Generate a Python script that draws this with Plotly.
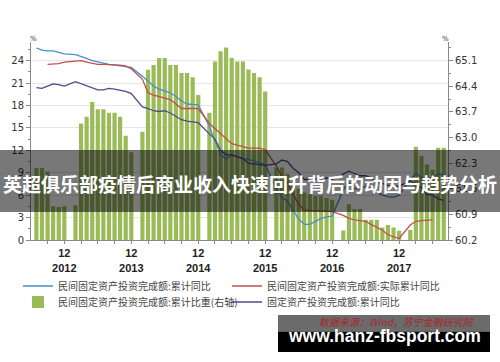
import plotly.graph_objects as go

# ---------------- data ----------------
months = [
    "2012-07", "2012-08", "2012-09", "2012-10", "2012-11", "2012-12",
    "2013-02", "2013-03", "2013-04", "2013-05", "2013-06", "2013-07", "2013-08", "2013-09", "2013-10", "2013-11", "2013-12",
    "2014-02", "2014-03", "2014-04", "2014-05", "2014-06", "2014-07", "2014-08", "2014-09", "2014-10", "2014-11", "2014-12",
    "2015-02", "2015-03", "2015-04", "2015-05", "2015-06", "2015-07", "2015-08", "2015-09", "2015-10", "2015-11", "2015-12",
    "2016-02", "2016-03", "2016-04", "2016-05", "2016-06", "2016-07", "2016-08", "2016-09", "2016-10", "2016-11", "2016-12",
    "2017-02", "2017-03", "2017-04", "2017-05", "2017-06", "2017-07", "2017-08", "2017-09", "2017-10", "2017-11", "2017-12",
    "2018-02", "2018-03", "2018-04", "2018-05", "2018-06", "2018-07", "2018-08",
]

# 民间固定资产投资完成额:累计比重 (右轴, %)
private_share = [
    62.17, 62.17, 62.07, 61.12, 61.10, 61.12,
    61.15, 63.38, 63.57, 63.97, 63.77, 63.77, 63.68, 63.68, 63.57, 63.05, 62.60,
    63.16, 64.85, 64.98, 65.17, 65.17, 64.98, 64.98, 64.76, 64.76, 64.65, 64.16,
    63.68, 65.08, 65.36, 65.46, 65.17, 65.08, 65.08, 64.86, 64.76, 64.65, 64.26,
    62.18, 62.18, 62.00, 61.76, 61.60, 61.50, 61.45, 61.40, 61.40, 61.35, 61.30,
    60.46, 61.18, 61.05, 61.05, 60.75, 60.75, 60.75, 60.54, 60.61, 60.54, 60.45,
    60.47, 62.75, 62.50, 62.26, 62.12, 62.72, 62.72,
]

# 民间固定资产投资完成额:累计同比 (%)
private_yoy = [
    25.7, 25.4, 25.3, 25.3, 25.1, 24.9,
    24.8, 24.6, 24.3, 24.0, 23.8, 23.6, 23.5, 23.4, 23.3, 23.2, 23.1,
    21.9, 21.2, 20.6, 20.2, 19.9, 19.7, 19.2, 18.6, 18.2, 18.1, 18.1,
    15.2, 13.2, 11.5, 10.8, 11.4, 11.1, 10.9, 10.8, 10.6, 10.3, 10.1,
    6.9, 5.7, 5.2, 3.9, 2.8, 2.1, 2.1, 2.5, 2.9, 3.1, 3.2,
    6.7, 7.7, 6.9, 6.8, 7.2, 6.9, 6.4, 6.0, 5.8, 5.7, 6.0,
    8.1, 8.9, 8.4, 8.1, 8.4, 8.8, 8.7,
]

# 民间固定资产投资完成额:实际累计同比 (%)
private_real_yoy = [
    None, None, 23.5, 23.5, 23.6, 23.8,
    24.0, 24.0, 23.8, 23.6, 23.5, 23.5, 23.5, 23.4, 23.4, 23.3, 22.9,
    21.5, 19.7, 19.4, 19.2, 19.0, 18.8, 18.2, 17.6, 17.6, 17.6, 17.6,
    15.6, 14.9, 14.2, 13.5, 12.9, 12.7, 12.5, 12.3, 12.3, 12.3, 12.1,
    9.9, 8.5, 7.7, 6.1, 4.8, 4.0, 3.9, 3.9, 3.9, 3.9, 3.8,
    3.3, 2.9, 2.7, 2.6, 2.5, 2.1, 1.7, 1.3, 0.7, 0.4, 0.2,
    2.0, 2.5, 2.6, 2.6, 2.7, None, None,
]

# 固定资产投资完成额:累计同比 (%)
total_yoy = [
    20.4, 20.3, 20.6, 20.9, 20.8, 20.6,
    21.2, 20.9, 20.6, 20.4, 20.1, 20.1, 20.3, 20.2, 20.1, 19.9, 19.6,
    17.8, 17.6, 17.3, 17.2, 17.3, 17.0, 16.5, 16.1, 15.9, 15.8, 15.7,
    14.2, 13.5, 12.0, 11.4, 11.4, 11.2, 10.9, 10.3, 10.2, 10.2, 10.0,
    10.2, 10.7, 10.5, 9.6, 9.0, 8.1, 8.1, 8.2, 8.3, 8.3, 8.1,
    8.9, 9.2, 8.9, 8.6, 8.6, 8.3, 7.8, 7.5, 7.3, 7.2, 7.2,
    7.9, 7.5, 7.0, 6.1, 6.0, 5.5, 5.3,
]

tick_months = ["2012-12", "2013-12", "2014-12", "2015-12", "2016-12", "2017-12"]
tick_labels = ["12<br>2012", "12<br>2013", "12<br>2014", "12<br>2015", "12<br>2016", "12<br>2017"]
left_ticks = [0, 3, 6, 9, 12, 15, 18, 21, 24]
right_ticks = [60.2, 60.9, 61.6, 62.3, 63.0, 63.7, 64.4, 65.1]

names = [
    "民间固定资产投资完成额:累计同比",
    "民间固定资产投资完成额:实际累计同比",
    "民间固定资产投资完成额:累计比重(右轴)",
    "固定资产投资完成额:累计同比",
]
banner_text = "英超俱乐部疫情后商业收入快速回升背后的动因与趋势分析"
source_text = "数据来源：Wind，苏宁金融研究院"
watermark_text = "www.hanz-fbsport.com"


def month_number(s):
    y, m = s.split("-")
    return (int(y) - 2012) * 12 + int(m)


x = [month_number(s) for s in months]
tick_x = [month_number(s) for s in tick_months]

# ---------------- geometry helpers (pixel -> paper) ----------------
W, H = 500, 362
ML, MR, MT, MB = 31, 52, 42, 122
PW, PH = W - ML - MR, H - MT - MB


def px(v):
    return (v - ML) / PW


def py(v):
    return (H - MB - v) / PH


CJK = "Noto Sans CJK SC"
COL_BLUE = "#4a8fc7"
COL_RED = "#c0504d"
COL_PURPLE = "#4e4b8b"
COL_GREEN = "#9bbb59"
AX = "#8a8a8a"

fig = go.Figure()

fig.add_trace(go.Bar(
    x=x, y=private_share, yaxis="y", name=names[2], legend="legend3",
    marker=dict(color=COL_GREEN, line=dict(width=0)), width=0.75,
))
fig.add_trace(go.Scatter(
    x=x, y=private_yoy, yaxis="y2", mode="lines", name=names[0], legend="legend",
    line=dict(color=COL_BLUE, width=1.3),
))
fig.add_trace(go.Scatter(
    x=x, y=private_real_yoy, yaxis="y2", mode="lines", name=names[1], legend="legend2",
    line=dict(color=COL_RED, width=1.3),
))
fig.add_trace(go.Scatter(
    x=x, y=total_yoy, yaxis="y2", mode="lines", name=names[3], legend="legend4",
    line=dict(color=COL_PURPLE, width=1.3),
))

legend_common = dict(
    font=dict(family=CJK, size=10, color="#444444"),
    bgcolor="rgba(0,0,0,0)", borderwidth=0, itemwidth=30,
    xanchor="left", yanchor="middle", orientation="v",
)
col1_x, col2_x = px(18), px(227)
row1_y, row2_y = py(286), py(302)

fig.update_layout(
    width=W, height=H,
    margin=dict(l=ML, r=MR, t=MT, b=MB, pad=0),
    paper_bgcolor="white", plot_bgcolor="white",
    xaxis=dict(
        range=[6.03, 80.76], tickmode="array", tickvals=tick_x, ticktext=tick_labels,
        ticks="outside", ticklen=3, tickcolor=AX, showline=True, linecolor=AX, linewidth=1,
        showgrid=False, zeroline=False,
        tickfont=dict(family="Liberation Sans, Arial", size=11, color="#222222", weight="bold"),
        minor=dict(tickmode="linear", tick0=12, dtick=3, ticks="outside", ticklen=3,
                   tickcolor=AX, showgrid=False),
    ),
    yaxis=dict(
        side="right", range=[60.2, 65.61], tickmode="array", tickvals=right_ticks,
        tickformat=".1f", ticks="outside", ticklen=4, tickcolor=AX,
        showline=True, linecolor=AX, linewidth=1, showgrid=False, zeroline=False,
        tickfont=dict(family="DejaVu Sans", size=10, color="#333333"),
        minor=dict(tickmode="linear", tick0=60.2, dtick=0.35, ticks="outside", ticklen=2,
                   tickcolor=AX, showgrid=False),
    ),
    yaxis2=dict(
        overlaying="y", side="left", range=[0, 26.5], tickmode="array", tickvals=left_ticks,
        ticks="outside", ticklen=4, tickcolor=AX,
        showline=True, linecolor=AX, linewidth=1,
        showgrid=True, gridcolor="#e6e6e6", gridwidth=1, zeroline=False,
        tickfont=dict(family="DejaVu Sans", size=10, color="#333333"),
        minor=dict(tickmode="linear", tick0=0, dtick=1.5, ticks="outside", ticklen=2,
                   tickcolor=AX, showgrid=False),
    ),
    legend=dict(x=col1_x, y=row1_y, **legend_common),
    legend2=dict(x=col2_x, y=row1_y, **legend_common),
    legend3=dict(x=col1_x, y=row2_y, **legend_common),
    legend4=dict(x=col2_x, y=row2_y, **legend_common),
    showlegend=True,
)

# overlay banner + watermark boxes
fig.add_shape(type="rect", xref="paper", yref="paper", layer="above",
              x0=px(0), x1=px(W), y0=py(212), y1=py(150),
              fillcolor="rgba(0,0,0,0.53)", line=dict(width=0))
fig.add_shape(type="rect", xref="paper", yref="paper", layer="above",
              x0=px(278), x1=px(490), y0=py(331.5), y1=py(315),
              fillcolor="#6b6b6b", line=dict(width=0))
fig.add_shape(type="rect", xref="paper", yref="paper", layer="above",
              x0=px(278), x1=px(490), y0=py(352), y1=py(331.5),
              fillcolor="#000000", line=dict(width=0))

annos = [
    dict(text="%", x=px(33), y=py(39), font=dict(family="DejaVu Sans", size=7, color="#333333")),
    dict(text="%", x=px(445.5), y=py(39), font=dict(family="DejaVu Sans", size=7, color="#333333")),
    dict(text=banner_text, x=px(250), y=py(183.5),
         font=dict(family=CJK, size=19, color="white", weight="bold")),
    dict(text=source_text, x=px(477), y=py(321), xanchor="right",
         font=dict(family=CJK, size=10, color="#a8262a", style="italic")),
    dict(text=watermark_text, x=px(384), y=py(336),
         font=dict(family="Liberation Sans, Arial", size=17.5, color="white", weight="bold")),
]
for a in annos:
    base = dict(xref="paper", yref="paper", showarrow=False, xanchor="center", yanchor="middle")
    base.update(a)
    fig.add_annotation(**base)

fig.write_html("out.html")
